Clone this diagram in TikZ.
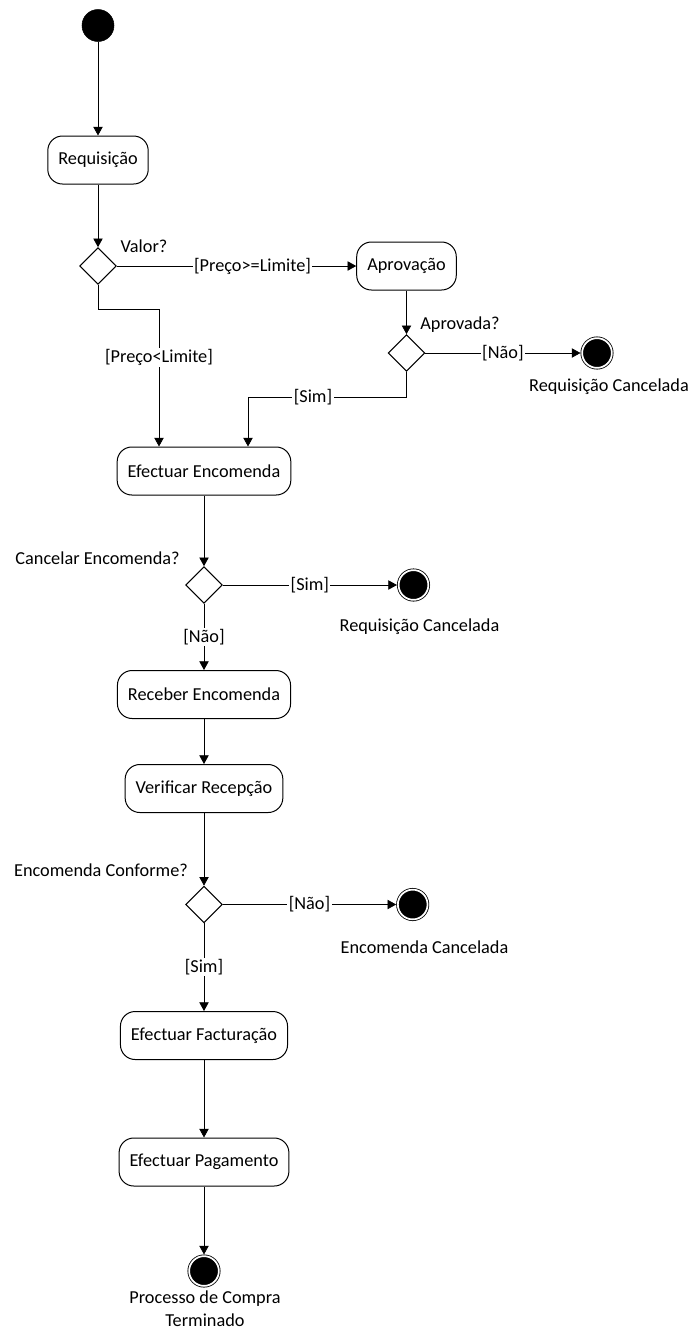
\documentclass[tikz,border=0pt]{standalone}
\usepackage{fontspec}
\setmainfont{Carlito}
\usetikzlibrary{arrows.meta,positioning,shapes.geometric}

\tikzset{
  activity/.style={draw, rounded corners=11pt, minimum height=36pt, inner xsep=7.9pt, line width=0.75pt},
  decision/.style={draw, diamond, aspect=1, minimum size=27.5pt, inner sep=0pt, line width=0.75pt},
  initial/.style={circle, fill=black, draw=black, minimum size=24pt, inner sep=0pt},
  final/.style={circle, fill=black, draw=black, double=white, double distance=1.3pt, line width=0.6pt, minimum size=22.3pt, inner sep=0pt, outer sep=1.25pt},
  flow/.style={-{Triangle[length=6.5pt,width=7pt]}, line width=0.6pt},
  guard/.style={fill=white, inner sep=1pt},
}

\begin{document}
\begin{tikzpicture}[x=0.75pt, y=-0.75pt, font=\fontsize{13.7pt}{17.3pt}\selectfont]
    \useasboundingbox (0,0) rectangle (693,1329);

    % Nodes
    \node[initial] (start) at (98,25.5) {};
    \node[activity] (req) at (98,160) {Requisição};
    \node[decision] (d1) at (98,266) {};
    \node (valor) at (144,246) {Valor?};
    \node[activity] (aprov) at (406.5,266) {Aprovação};
    \node[decision] (d2) at (406.5,353) {};
    \node (aprovada) at (460,325) {Aprovada?};
    \node[final] (fim1) at (597,353) {};
    \node (fim1lbl) at (609,387) {Requisição Cancelada};

    \node[activity] (encom) at (204,471) {Efectuar Encomenda};
    \node[decision] (d3) at (204,585) {};
    \node (cancel) at (97.5,558) {Cancelar Encomenda?};
    \node[final] (fim2) at (413.5,585) {};
    \node (fim2lbl) at (419.5,627) {Requisição Cancelada};

    \node[activity] (receb) at (204,694.5) {Receber Encomenda};
    \node[activity] (verif) at (204,788.5) {Verificar Recepção};
    \node[decision] (d4) at (204,904.5) {};
    \node (conforme) at (101,870) {Encomenda Conforme?};
    \node[final] (fim3) at (412.7,904.5) {};
    \node (fim3lbl) at (424.5,947) {Encomenda Cancelada};

    \node[activity] (factur) at (204,1035.5) {Efectuar Facturação};
    \node[activity] (pagam) at (204,1162) {Efectuar Pagamento};
    \node[final] (fim4) at (204,1271) {};
    \node[align=center] (fim4lbl) at (205,1308.5) {Processo de Compra\\Terminado};

    % Bends
    \coordinate (b1) at (159,309);
    \coordinate (b2) at (248,397);

    % Edges
    \draw[flow] (start) -- (req);
    \draw[flow] (req) -- (d1);
    \draw[flow] (d1) -- node[guard, pos=0.567] {[Preço>=Limite]} (aprov);
    \draw[flow] (aprov) -- (d2);
    \draw[flow] (d2) -- node[guard] {[Não]} (fim1);
    \draw[flow] (d1.south) |- (b1) -- node[guard, pos=0.355] {[Preço<Limite]} (b1 |- encom.north);
    \draw[flow] (d2.south) -- (d2.south |- b2) -- node[guard, pos=0.59] {[Sim]} (b2) -- (b2 |- encom.north);
    \draw[flow] (encom) -- (d3);
    \draw[flow] (d3) -- node[guard] {[Sim]} (fim2);
    \draw[flow] (d3) -- node[guard] {[Não]} (receb);
    \draw[flow] (receb) -- (verif);
    \draw[flow] (verif) -- (d4);
    \draw[flow] (d4) -- node[guard] {[Não]} (fim3);
    \draw[flow] (d4) -- node[guard] {[Sim]} (factur);
    \draw[flow] (factur) -- (pagam);
    \draw[flow] (pagam) -- (fim4);
\end{tikzpicture}
\end{document}
